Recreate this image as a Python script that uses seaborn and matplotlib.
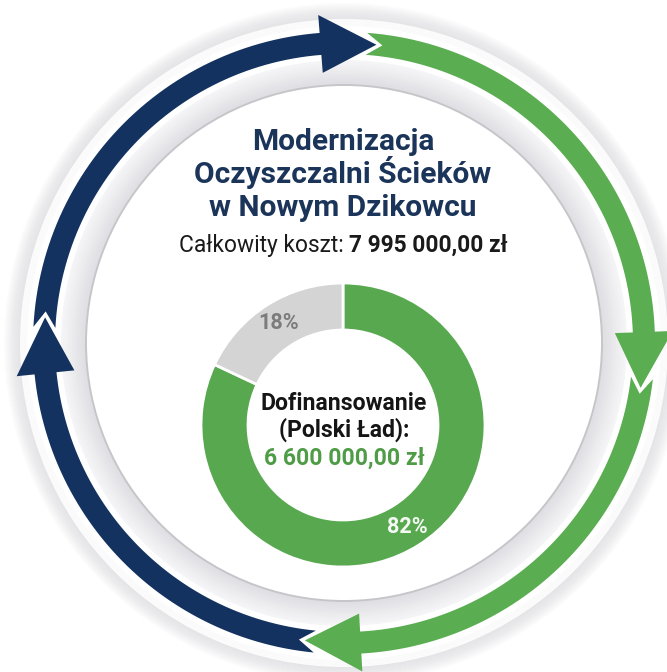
import numpy as np
import matplotlib
matplotlib.use("Agg")
import matplotlib.pyplot as plt
from matplotlib.patches import Polygon, Wedge, Circle
import seaborn as sns

# Data
shares = [82, 18]                       # Polski Ład funding vs own contribution (%)
share_colors = ["#58a84f", "#d4d4d4"]
title_lines = ["Modernizacja", "Oczyszczalni Ścieków", "w Nowym Dzikowcu"]
cost_label = "Całkowity koszt: "
cost_value = "7 995 000,00 zł"
centre_lines = ["Dofinansowanie", "(Polski Ład):"]
funding_value = "6 600 000,00 zł"

# arrow ring: tip angles (deg) going clockwise, colour of the segment ending there
arrow_tips = [83.8, -8.6, -97.5, -184.9]
arrow_colors = ["#13325f", "#5aad50", "#5aad50", "#13325f"]

NAVY = "#1b3459"
GREEN_TXT = "#4f9c47"

sns.set_theme(style="white")
plt.rcParams["font.family"] = ["Roboto", "DejaVu Sans"]

W, H = 667, 672
fig = plt.figure(figsize=(W / 100, H / 100), dpi=100)
ax = fig.add_axes([0, 0, 1, 1])

CX, CY = 344, H - 343     # centre of the ring
R, BAND = 300, 22


def blend(c1, c2, t):
    c1 = np.array(matplotlib.colors.to_rgb(c1))
    c2 = np.array(matplotlib.colors.to_rgb(c2))
    return tuple(c1 + (c2 - c1) * t)


# soft outer shadow
for i in range(16):
    r = 340 - i
    ax.add_patch(Circle((CX, CY), r, color="#dcdce0", alpha=0.06, lw=0, zorder=1))
# ring surface, white near the arrows, grey toward the inner disc
n = 30
for i in range(n):
    r_out = 324 - (324 - 259) * i / n
    t = max(0, (r_out - 259) / 30)
    col = blend("#dedee2", "#fbfbfc", min(1, t))
    ax.add_patch(Wedge((CX, CY), r_out, 0, 360, width=(324 - 259) / n + 0.5,
                       color=col, lw=0, zorder=2))
# thin white rim either side of the arrow band
ax.add_patch(Wedge((CX, CY), R + BAND / 2 + 6, 0, 360, width=BAND + 12,
                   color="#ffffff", lw=0, zorder=3))
# inner white disc
ax.add_patch(Circle((CX, CY), 258, facecolor="white", edgecolor="#c6c6ca",
                    lw=1.4, zorder=4))


def arc_pts(r, a0, a1, k=60):
    a = np.radians(np.linspace(a0, a1, k))
    return np.column_stack([CX + r * np.cos(a), CY + r * np.sin(a)])


def pt(r, a):
    a = np.radians(a)
    return [CX + r * np.cos(a), CY + r * np.sin(a)]


head_len = np.degrees(56 / R)
hw = 29
back = np.degrees(10 / R)
fwd = np.degrees(6 / R)

for k, (tip, col) in enumerate(zip(arrow_tips, arrow_colors)):
    prev_tip = arrow_tips[k - 1] + (360 if k == 0 else 0)
    corner = prev_tip + back
    shaft_end = tip + head_len
    pts = list(arc_pts(R + BAND / 2, corner, shaft_end))
    pts += [pt(R + hw, shaft_end), pt(R, tip), pt(R - hw, shaft_end)]
    pts += list(arc_pts(R - BAND / 2, shaft_end, corner))
    pts += [pt(R, prev_tip - fwd)]
    ax.add_patch(Polygon(np.array(pts), closed=True, facecolor=col,
                         edgecolor="none", zorder=5))

# donut
wedges, _, autotexts = ax.pie(
    shares, colors=share_colors, startangle=90, counterclock=False,
    center=(343, H - 425), radius=142, autopct="%.0f%%", pctdistance=0.85,
    wedgeprops=dict(width=47, edgecolor="white", linewidth=2),
    textprops=dict(fontsize=15.5, fontweight="bold"))
for w in wedges:
    w.set_zorder(6)
autotexts[0].set_color("#f4f9f3")
autotexts[1].set_color("#7c7c7c")
for t in autotexts:
    t.set_zorder(7)

# title
for y, line in zip([150, 183, 216], title_lines):
    ax.text(343, H - y, line, ha="center", va="baseline", fontsize=21.5,
            fontweight="bold", color=NAVY, zorder=8)

# total cost line, regular + bold, centred together
t1 = ax.text(0, H - 252, cost_label, ha="left", va="baseline", fontsize=16.4,
             color="#1a1a1a", zorder=8)
t2 = ax.text(0, H - 252, cost_value, ha="left", va="baseline", fontsize=16.4,
             fontweight="bold", color="#1a1a1a", zorder=8)
fig.canvas.draw()
rend = fig.canvas.get_renderer()
w1 = t1.get_window_extent(rend).width
w2 = t2.get_window_extent(rend).width
x0 = 343 - (w1 + w2) / 2
t1.set_x(x0)
t2.set_x(x0 + w1)

# centre of donut
for y, line in zip([410, 437], centre_lines):
    ax.text(344, H - y, line, ha="center", va="baseline", fontsize=16.6,
            fontweight="bold", color="#151515", zorder=8)
ax.text(344, H - 465, funding_value, ha="center", va="baseline", fontsize=16.6,
        fontweight="bold", color=GREEN_TXT, zorder=8)

ax.set_xlim(0, W)
ax.set_ylim(0, H)
ax.set_aspect("auto")
ax.axis("off")

fig.savefig("out.png", dpi=100, facecolor="white")
